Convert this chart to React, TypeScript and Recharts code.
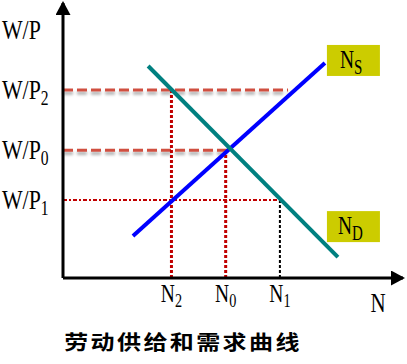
import { ComposedChart, Line, XAxis, YAxis, ReferenceLine } from 'recharts';

// labour quantity ticks (N2, N0, N1) and real wage ticks (W/P1, W/P0, W/P2, W/P)
const nTicks = [2, 3, 4];
const nTickSubs = ['2', '0', '1'];
const wTicks = [2.84, 4.65, 6.84, 9.02];
const wTickSubs = ['1', '0', '2', ''];

const supply = [
  { n: 1.29, w: 1.53 },
  { n: 4.83, w: 7.82 },
];
const demand = [
  { n: 1.57, w: 7.71 },
  { n: 5.07, w: 0.76 },
];

// where the guide lines stop
const wp2Until = 4.15;
const wp0Until = 3.06;
const wp1Until = 4.0;
const n0Until = 4.55;

const serif = "'Liberation Serif', 'Times New Roman', serif";

const YTick = (props: any) => {
  const { y, payload } = props;
  const i = wTicks.indexOf(payload.value);
  const sub = wTickSubs[i] ?? '';
  return (
    <g transform={`translate(2, ${y + 9}) scale(0.78, 1)`}>
      <text x={0} y={0} fontFamily={serif} fontSize={28} fill="#000">
        W/P
        {sub && (
          <tspan fontSize={20} dy={6}>
            {sub}
          </tspan>
        )}
      </text>
    </g>
  );
};

const XTick = (props: any) => {
  const { x, y, payload } = props;
  const i = nTicks.indexOf(payload.value);
  return (
    <g transform={`translate(${x}, ${y + 24}) scale(0.75, 1)`}>
      <text x={0} y={0} textAnchor="middle" fontFamily={serif} fontSize={26} fill="#000">
        N
        <tspan fontSize={19} dy={5}>
          {nTickSubs[i]}
        </tspan>
      </text>
    </g>
  );
};

const tagBox = (sub: string, dx: number, dy: number, textDx: number) => (props: any) => {
  const { cx, cy, index } = props;
  if (index !== 1) return <g key={`d${index}`} />;
  return (
    <g key={`d${index}`}>
      <rect x={cx + dx} y={cy + dy} width={53} height={31} fill="#CCCC00" />
      <g transform={`translate(${cx + dx + textDx}, ${cy + dy + 23}) scale(0.75, 1)`}>
        <text x={0} y={0} fontFamily={serif} fontSize={26} fill="#000">
          N
          <tspan fontSize={20} dy={6}>
            {sub}
          </tspan>
        </text>
      </g>
    </g>
  );
};

export default function App() {
  return (
    <div style={{ position: 'absolute', left: 0, top: 0, width: 407, height: 364, background: '#fff' }}>
      <svg width={0} height={0} style={{ position: 'absolute' }}>
        <defs>
          <marker
            id="axisArrow"
            viewBox="0 0 14 15"
            refX={12}
            refY={7.5}
            markerWidth={14}
            markerHeight={15}
            markerUnits="userSpaceOnUse"
            orient="auto-start-reverse"
          >
            <path d="M0,0 L14,7.5 L0,15 z" fill="#000" />
          </marker>
          <filter id="dashShadow" filterUnits="userSpaceOnUse" x={0} y={0} width={407} height={364}>
            <feDropShadow dx={0} dy={3} stdDeviation={1.6} floodColor="#000" floodOpacity={0.35} />
          </filter>
        </defs>
      </svg>
      <ComposedChart width={407} height={364} margin={{ top: 3, right: 4, left: 0, bottom: 0 }}>
        <XAxis
          type="number"
          dataKey="n"
          domain={[0, 6.27]}
          allowDataOverflow
          ticks={nTicks}
          interval={0}
          tick={<XTick />}
          tickLine={false}
          tickSize={0}
          tickMargin={0}
          height={86}
          axisLine={{ stroke: '#000', strokeWidth: 3, markerEnd: 'url(#axisArrow)' }}
          label={{
            content: (p: any) => (
              <g transform={`translate(${p.viewBox.x + p.viewBox.width - 25}, ${p.viewBox.y + 34}) scale(0.75, 1)`}>
                <text x={0} y={0} textAnchor="middle" fontFamily={serif} fontSize={28} fill="#000">
                  N
                </text>
              </g>
            ),
          }}
        />
        <YAxis
          type="number"
          domain={[0, 10]}
          allowDataOverflow
          ticks={wTicks}
          interval={0}
          tick={<YTick />}
          tickLine={false}
          tickSize={0}
          tickMargin={0}
          width={63}
          axisLine={{ stroke: '#000', strokeWidth: 3, markerStart: 'url(#axisArrow)' }}
        />

        <ReferenceLine
          segment={[{ x: 0, y: wTicks[2] }, { x: wp2Until, y: wTicks[2] }]}
          stroke="#D05040"
          strokeWidth={3}
          strokeDasharray="10 4"
          filter="url(#dashShadow)"
        />
        <ReferenceLine
          segment={[{ x: 0, y: wTicks[1] }, { x: wp0Until, y: wTicks[1] }]}
          stroke="#D05040"
          strokeWidth={3}
          strokeDasharray="10 4"
          filter="url(#dashShadow)"
        />
        <ReferenceLine
          segment={[{ x: 0, y: wTicks[0] }, { x: wp1Until, y: wTicks[0] }]}
          stroke="#C00000"
          strokeWidth={2}
          strokeDasharray="4 2 2 2"
        />
        <ReferenceLine
          segment={[{ x: nTicks[0], y: 0 }, { x: nTicks[0], y: wTicks[2] }]}
          stroke="#C00000"
          strokeWidth={3}
          strokeDasharray="3 2"
        />
        <ReferenceLine
          segment={[{ x: nTicks[1], y: 0 }, { x: nTicks[1], y: n0Until }]}
          stroke="#C00000"
          strokeWidth={3}
          strokeDasharray="3 2"
        />
        <ReferenceLine
          segment={[{ x: nTicks[2], y: 0 }, { x: nTicks[2], y: wTicks[0] }]}
          stroke="#000"
          strokeWidth={2}
          strokeDasharray="3 2"
        />

        <Line
          data={supply}
          dataKey="w"
          type="linear"
          stroke="#0000FF"
          strokeWidth={4}
          dot={tagBox('S', 2, -18, 13)}
          activeDot={false}
          isAnimationActive={false}
        />
        <Line
          data={demand}
          dataKey="w"
          type="linear"
          stroke="#008080"
          strokeWidth={4}
          dot={tagBox('D', -11, -46, 11)}
          activeDot={false}
          isAnimationActive={false}
        />
      </ComposedChart>
      <div
        style={{
          position: 'absolute',
          left: 183,
          top: 342,
          transform: 'translate(-50%, -50%) scaleX(1.2)',
          whiteSpace: 'nowrap',
          fontFamily: "'Noto Sans CJK SC', sans-serif",
          fontWeight: 700,
          fontSize: 20,
          letterSpacing: 2,
          lineHeight: 1,
          color: '#000',
        }}
      >
        劳动供给和需求曲线
      </div>
    </div>
  );
}
